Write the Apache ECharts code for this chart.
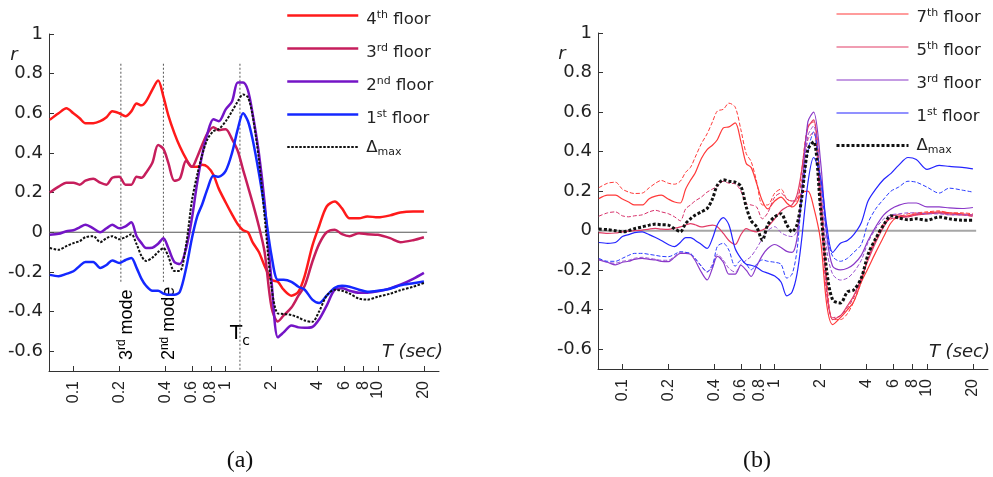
<!DOCTYPE html>
<html>
<head>
<meta charset="utf-8">
<title>r versus T</title>
<script src="https://cdn.jsdelivr.net/npm/echarts@6/dist/echarts.min.js"></script>
<style>
  html, body { margin: 0; padding: 0; background: #fff; }
  #chart { width: 993px; height: 477px; }
</style>
</head>
<body>
<div id="chart"></div>
<script>
// periods T (sec) shared by every curve
const periods = [0.07, 0.08, 0.09, 0.1, 0.11, 0.12, 0.135, 0.15, 0.165, 0.18,
  0.2, 0.22, 0.24, 0.26, 0.28, 0.3, 0.33, 0.36, 0.39, 0.42,
  0.46, 0.5, 0.55, 0.6, 0.65, 0.7, 0.76, 0.83, 0.9, 1.0,
  1.1, 1.2, 1.3, 1.4, 1.5, 1.65, 1.8, 2.0, 2.2, 2.4,
  2.7, 3.0, 3.3, 3.7, 4.1, 4.6, 5.2, 5.8, 6.5, 7.5,
  8.5, 10, 12, 14, 17, 20];
const tickPeriods = [0.1, 0.2, 0.4, 0.6, 0.8, 1, 2, 4, 6, 8, 10, 20];
const rTicks = [-0.6, -0.4, -0.2, 0, 0.2, 0.4, 0.6, 0.8, 1];

// panel (a)
const a4th = [0.567, 0.60, 0.625, 0.60, 0.575, 0.55, 0.55, 0.56, 0.58, 0.61,
  0.60, 0.585, 0.61, 0.65, 0.64, 0.66, 0.72, 0.765, 0.684, 0.59,
  0.50, 0.432, 0.37, 0.33, 0.33, 0.34, 0.33, 0.29, 0.22, 0.15,
  0.09, 0.04, 0.01, 0.0, -0.05, -0.10, -0.17, -0.24, -0.25, -0.29,
  -0.32, -0.30, -0.22, -0.07, 0.03, 0.13, 0.155, 0.12, 0.07, 0.07,
  0.08, 0.075, 0.085, 0.10, 0.105, 0.105];
const a3rd = [0.20, 0.23, 0.25, 0.25, 0.24, 0.26, 0.27, 0.25, 0.24, 0.275,
  0.28, 0.24, 0.24, 0.28, 0.275, 0.30, 0.35, 0.44, 0.42, 0.35,
  0.26, 0.27, 0.36, 0.33, 0.38, 0.44, 0.50, 0.53, 0.515, 0.52,
  0.47, 0.41, 0.315, 0.23, 0.15, 0.03, -0.10, -0.38, -0.45, -0.42,
  -0.38, -0.32, -0.27, -0.15, -0.06, 0.0, 0.013, -0.01, -0.02, -0.005,
  -0.01, -0.013, -0.03, -0.05, -0.04, -0.025];
const a2nd = [-0.013, -0.008, 0.005, 0.01, 0.025, 0.038, 0.02, 0.0, 0.02, 0.038,
  0.02, 0.03, 0.05, -0.02, -0.055, -0.08, -0.078, -0.058, -0.03, -0.08,
  -0.15, -0.16, -0.08, 0.07, 0.25, 0.39, 0.50, 0.57, 0.56, 0.62,
  0.66, 0.755, 0.755, 0.715, 0.60, 0.40, 0.15, -0.25, -0.53, -0.505,
  -0.47, -0.48, -0.482, -0.478, -0.44, -0.37, -0.29, -0.283, -0.295, -0.305,
  -0.305, -0.298, -0.283, -0.265, -0.235, -0.205];
const a1st = [-0.215, -0.222, -0.21, -0.197, -0.17, -0.15, -0.15, -0.18, -0.165, -0.142,
  -0.155, -0.14, -0.13, -0.18, -0.235, -0.27, -0.295, -0.295, -0.31, -0.315,
  -0.315, -0.30, -0.18, -0.03, 0.08, 0.14, 0.22, 0.285, 0.28, 0.31,
  0.40, 0.52, 0.60, 0.56, 0.47, 0.30, 0.12, -0.12, -0.24, -0.24,
  -0.25, -0.275, -0.29, -0.34, -0.357, -0.32, -0.28, -0.27, -0.275, -0.29,
  -0.30, -0.295, -0.285, -0.268, -0.257, -0.248];
const aDelta = [-0.08, -0.088, -0.07, -0.055, -0.045, -0.025, -0.02, -0.05, -0.03, -0.02,
  -0.035, -0.025, -0.01, -0.06, -0.12, -0.145, -0.128, -0.10, -0.08, -0.122,
  -0.195, -0.195, -0.06, 0.16, 0.29, 0.39, 0.47, 0.51, 0.52, 0.56,
  0.61, 0.66, 0.695, 0.68, 0.59, 0.37, 0.08, -0.28, -0.41, -0.412,
  -0.418, -0.43, -0.445, -0.452, -0.40, -0.32, -0.29, -0.295, -0.31, -0.335,
  -0.34, -0.325, -0.31, -0.293, -0.275, -0.256];

// panel (b): solid = one record, dashed = the other
const b7th = [0.162, 0.18, 0.18, 0.16, 0.145, 0.13, 0.13, 0.162, 0.175, 0.18,
  0.16, 0.145, 0.14, 0.21, 0.255, 0.29, 0.365, 0.41, 0.432, 0.46,
  0.52, 0.525, 0.545, 0.45, 0.34, 0.32, 0.24, 0.15, 0.11, 0.15,
  0.17, 0.14, 0.12, 0.14, 0.19, 0.20, 0.12, -0.05, -0.38, -0.475,
  -0.44, -0.40, -0.36, -0.26, -0.19, -0.11, -0.03, 0.04, 0.07, 0.075,
  0.085, 0.09, 0.095, 0.09, 0.085, 0.08];
const b7thDash = [0.217, 0.24, 0.245, 0.21, 0.195, 0.188, 0.19, 0.217, 0.24, 0.254,
  0.24, 0.235, 0.25, 0.295, 0.32, 0.37, 0.44, 0.49, 0.55, 0.605,
  0.614, 0.645, 0.625, 0.51, 0.39, 0.35, 0.25, 0.13, 0.13, 0.19,
  0.21, 0.16, 0.15, 0.15, 0.30, 0.53, 0.55, 0.24, -0.25, -0.45,
  -0.45, -0.42, -0.36, -0.26, -0.13, -0.04, 0.04, 0.06, 0.07, 0.085,
  0.09, 0.095, 0.10, 0.09, 0.09, 0.085];
const b5th = [-0.01, -0.014, -0.012, -0.006, -0.002, 0.0, 0.003, 0.008, 0.011, 0.008,
  0.006, 0.012, 0.019, 0.028, 0.036, 0.03, 0.019, 0.024, 0.028, 0.02,
  -0.014, -0.05, -0.07, -0.02, 0.01, 0.0, -0.006, 0.003, 0.02, 0.06,
  0.10, 0.12, 0.13, 0.18, 0.30, 0.52, 0.56, 0.18, -0.30, -0.45,
  -0.43, -0.38, -0.33, -0.24, -0.15, -0.06, 0.02, 0.07, 0.08, 0.07,
  0.08, 0.085, 0.09, 0.085, 0.08, 0.075];
const b5thDash = [0.073, 0.09, 0.095, 0.075, 0.07, 0.075, 0.08, 0.095, 0.103, 0.095,
  0.086, 0.07, 0.05, 0.11, 0.13, 0.15, 0.17, 0.195, 0.21, 0.225,
  0.25, 0.24, 0.237, 0.20, 0.137, 0.13, 0.12, 0.06, 0.09, 0.17,
  0.19, 0.16, 0.15, 0.16, 0.25, 0.46, 0.50, 0.10, -0.33, -0.44,
  -0.43, -0.39, -0.34, -0.25, -0.14, -0.05, 0.03, 0.06, 0.065, 0.07,
  0.08, 0.085, 0.09, 0.08, 0.08, 0.07];
const b3rd = [-0.148, -0.16, -0.173, -0.16, -0.155, -0.145, -0.14, -0.145, -0.148, -0.155,
  -0.157, -0.135, -0.115, -0.115, -0.12, -0.15, -0.21, -0.249, -0.19, -0.13,
  -0.16, -0.22, -0.22, -0.175, -0.20, -0.232, -0.18, -0.125, -0.09, -0.07,
  -0.085, -0.105, -0.11, -0.04, 0.19, 0.55, 0.60, 0.35, -0.03, -0.18,
  -0.198, -0.19, -0.17, -0.125, -0.05, 0.02, 0.08, 0.11, 0.128, 0.14,
  0.14, 0.12, 0.12, 0.115, 0.112, 0.117];
const b3rdDash = [-0.145, -0.16, -0.165, -0.155, -0.15, -0.14, -0.135, -0.14, -0.145, -0.15,
  -0.15, -0.13, -0.11, -0.11, -0.12, -0.14, -0.18, -0.21, -0.17, -0.12,
  -0.15, -0.19, -0.21, -0.17, -0.15, -0.13, -0.09, -0.04, 0.0, 0.02,
  -0.01, -0.025, -0.03, 0.0, 0.20, 0.48, 0.53, 0.22, -0.10, -0.22,
  -0.25, -0.24, -0.21, -0.15, -0.06, 0.01, 0.06, 0.08, 0.085, 0.09,
  0.09, 0.085, 0.085, 0.08, 0.08, 0.08];
const b1st = [-0.06, -0.064, -0.06, -0.03, -0.02, -0.01, -0.006, -0.02, -0.035, -0.05,
  -0.07, -0.081, -0.06, -0.035, -0.035, -0.048, -0.07, -0.09, -0.04, 0.03,
  0.066, 0.03, -0.09, -0.14, -0.17, -0.175, -0.185, -0.205, -0.215, -0.23,
  -0.26, -0.33, -0.31, -0.22, -0.05, 0.24, 0.37, 0.27, 0.02, -0.11,
  -0.064, -0.05, -0.02, 0.04, 0.15, 0.21, 0.26, 0.29, 0.33, 0.37,
  0.36, 0.31, 0.33, 0.325, 0.32, 0.313];
const b1stDash = [-0.14, -0.155, -0.155, -0.14, -0.125, -0.115, -0.115, -0.12, -0.125, -0.13,
  -0.132, -0.12, -0.106, -0.11, -0.115, -0.14, -0.18, -0.207, -0.18, -0.08,
  -0.064, -0.098, -0.18, -0.15, -0.17, -0.198, -0.17, -0.148, -0.155, -0.16,
  -0.17, -0.24, -0.22, -0.10, 0.15, 0.40, 0.50, 0.26, -0.02, -0.13,
  -0.155, -0.14, -0.11, -0.07, 0.04, 0.11, 0.16, 0.20, 0.22, 0.25,
  0.245, 0.22, 0.19, 0.215, 0.205, 0.195];
const bDelta = [0.008, 0.005, 0.0, -0.006, 0.0, 0.01, 0.019, 0.028, 0.033, 0.03,
  0.028, 0.01, -0.006, 0.036, 0.06, 0.078, 0.095, 0.112, 0.16, 0.23,
  0.257, 0.25, 0.245, 0.224, 0.12, 0.05, 0.02, -0.048, 0.03, 0.07,
  0.086, 0.03, -0.006, 0.03, 0.16, 0.41, 0.45, 0.11, -0.21, -0.35,
  -0.366, -0.31, -0.30, -0.24, -0.12, -0.04, 0.03, 0.075, 0.065, 0.055,
  0.06, 0.053, 0.069, 0.06, 0.053, 0.053];

// marker periods: 3rd mode, 2nd mode, Tc
const modePeriods = [0.205, 0.39];
const tcPeriod = 1.24;
const zeroLineEnd = 21;

const legendLabels = {
  a4: '4{sup|th} floor', a3: '3{sup|rd} floor', a2: '2{sup|nd} floor', a1: '1{sup|st} floor', aD: 'Δ{sub|max}',
  b7: '7{sup|th} floor', b5: '5{sup|th} floor', b3: '3{sup|rd} floor', b1: '1{sup|st} floor', bD: 'Δ{sub|max}'
};

const lg = Math.log10;
const X_MIN = -1.16, X_MAX = 1.40;
const pts = vals => periods.map((t, i) => [lg(t), vals[i]]);
const tickLabel = v => {
  let best = tickPeriods[0];
  tickPeriods.forEach(p => { if (Math.abs(lg(p) - v) < Math.abs(lg(best) - v)) best = p; });
  return String(best);
};

const chart = echarts.init(document.getElementById('chart'));

function xAxisFor(gridIndex) {
  return {
    type: 'value', gridIndex, min: X_MIN, max: X_MAX,
    axisLine: { show: true, onZero: false, lineStyle: { color: '#333', width: 1 } },
    axisTick: { show: true, inside: true, length: 5, customValues: tickPeriods.map(lg), lineStyle: { color: '#333' } },
    axisLabel: {
      customValues: tickPeriods.map(lg), rotate: 90, margin: 10,
      fontFamily: 'Liberation Sans', fontSize: 16, color: '#222', formatter: tickLabel
    },
    splitLine: { show: false }
  };
}
function yAxisFor(gridIndex) {
  return {
    type: 'value', gridIndex, min: -0.7, max: 1,
    axisLine: { show: true, onZero: false, lineStyle: { color: '#333', width: 1 } },
    axisTick: { show: true, inside: true, length: 5, customValues: rTicks, lineStyle: { color: '#333' } },
    axisLabel: { customValues: rTicks, margin: 6, fontFamily: 'DejaVu Sans', fontSize: 18, color: '#222' },
    splitLine: { show: false }
  };
}
function curve(name, vals, idx, color, width, dash) {
  return {
    name, type: 'line', xAxisIndex: idx, yAxisIndex: idx, data: pts(vals),
    smooth: 0.3, symbol: 'none', silent: true, z: 3,
    lineStyle: { color, width, type: dash || 'solid' }, itemStyle: { color }
  };
}
function guide(name, idx, data, color, width, dash) {
  return {
    name, type: 'line', xAxisIndex: idx, yAxisIndex: idx, data,
    symbol: 'none', silent: true, z: 1, lineStyle: { color, width, type: dash }
  };
}
const supRich = {
  sup: { fontFamily: 'DejaVu Sans', fontSize: 11, lineHeight: 6, verticalAlign: 'top', color: '#222' },
  sub: { fontFamily: 'DejaVu Sans', fontSize: 11, lineHeight: 2, verticalAlign: 'bottom', color: '#222' }
};
function legendFor(names, left, top, width, lineW, deltaW) {
  return {
    orient: 'vertical', left, top, padding: 0, itemWidth: width, itemHeight: 14, itemGap: 5,
    selectedMode: false,
    data: names.map(n => n.endsWith('D')
      ? { name: n, lineStyle: { width: deltaW }, textStyle: { padding: [4, 0, 3, 3] } }
      : { name: n, lineStyle: { width: lineW } }),
    formatter: n => legendLabels[n],
    itemStyle: { opacity: 0 },
    textStyle: {
      fontFamily: 'DejaVu Sans', fontSize: 16.5, lineHeight: 20, color: '#222',
      padding: [8, 0, 0, 3], rich: supRich
    }
  };
}

const guideColor = '#555';
const option = {
  animation: false,
  backgroundColor: '#fff',
  grid: [
    { left: 49, top: 34, width: 390, height: 337 },
    { left: 598, top: 33, width: 390, height: 336 }
  ],
  xAxis: [xAxisFor(0), xAxisFor(1)],
  yAxis: [yAxisFor(0), yAxisFor(1)],
  legend: [
    legendFor(['a4', 'a3', 'a2', 'a1', 'aD'], 286, 1.5, 71, 2.5, 2),
    legendFor(['b7', 'b5', 'b3', 'b1', 'bD'], 835, 0, 72, 1.2, 3)
  ],
  series: [
    guide('zeroA', 0, [[X_MIN, 0], [lg(zeroLineEnd), 0]], '#555', 1, 'solid'),
    guide('mode3', 0, [[lg(modePeriods[0]), 0.85], [lg(modePeriods[0]), -0.25]], guideColor, 1, [2, 2]),
    guide('mode2', 0, [[lg(modePeriods[1]), 0.85], [lg(modePeriods[1]), -0.25]], guideColor, 1, [2, 2]),
    guide('tc', 0, [[lg(tcPeriod), 0.85], [lg(tcPeriod), -0.7]], guideColor, 1, [2, 2]),
    curve('a4', a4th, 0, '#ff1a1a', 2.5),
    curve('a3', a3rd, 0, '#c61e5c', 2.5),
    curve('a2', a2nd, 0, '#7414c6', 2.5),
    curve('a1', a1st, 0, '#1428ff', 2.5),
    curve('aD', aDelta, 0, '#111', 2, [2.5, 1.5]),

    guide('zeroB', 1, [[X_MIN, 0], [lg(zeroLineEnd), 0]], '#a6a6a6', 2, 'solid'),
    curve('b7', b7th, 1, '#ff3a3a', 1.2),
    curve('b7d', b7thDash, 1, '#ff3a3a', 1, [4, 2]),
    curve('b5', b5th, 1, '#e23c66', 1.2),
    curve('b5d', b5thDash, 1, '#d8306a', 1, [4, 2]),
    curve('b3', b3rd, 1, '#8a38c8', 1.2),
    curve('b3d', b3rdDash, 1, '#9a50d0', 1, [4, 2]),
    curve('b1', b1st, 1, '#2424ff', 1.2),
    curve('b1d', b1stDash, 1, '#2a3cff', 1, [4, 2]),
    curve('bD', bDelta, 1, '#111', 3, [3, 2])
  ]
};
chart.setOption(option);

// annotations anchored to data coordinates
const px = (gi, t, r) => chart.convertToPixel({ gridIndex: gi }, [lg(t), r]);
const modeRich = {
  n: { fontFamily: 'Liberation Sans', fontSize: 18, lineHeight: 22, color: '#222' },
  s: { fontFamily: 'Liberation Sans', fontSize: 12, lineHeight: 8, verticalAlign: 'top', color: '#222' }
};
const m3 = px(0, modePeriods[0], -0.645);
const m2 = px(0, modePeriods[1], -0.645);
const tc = px(0, tcPeriod, -0.51);
const italic = { fontFamily: 'DejaVu Sans', fontStyle: 'italic', fontSize: 18, fill: '#222' };
chart.setOption({
  graphic: [
    { type: 'text', x: m3[0] + 6, y: m3[1], rotation: Math.PI / 2,
      style: { text: '{n|3}{s|rd}{n| mode}', rich: modeRich, align: 'left', verticalAlign: 'middle' } },
    { type: 'text', x: m2[0] + 6, y: m2[1], rotation: Math.PI / 2,
      style: { text: '{n|2}{s|nd}{n| mode}', rich: modeRich, align: 'left', verticalAlign: 'middle' } },
    { type: 'text', x: tc[0] - 10, y: tc[1],
      style: { text: '{t|T}{c|c}', align: 'left', verticalAlign: 'middle', rich: {
        t: { fontFamily: 'DejaVu Sans', fontSize: 20, lineHeight: 30, color: '#222' },
        c: { fontFamily: 'DejaVu Sans', fontSize: 14, lineHeight: 4, verticalAlign: 'bottom', color: '#222' }
      } } },
    { type: 'text', x: 443, y: 352, style: Object.assign({ text: 'T (sec)', align: 'right', verticalAlign: 'middle' }, italic) },
    { type: 'text', x: 990, y: 352, style: Object.assign({ text: 'T (sec)', align: 'right', verticalAlign: 'middle' }, italic) },
    { type: 'text', x: 14, y: 55, style: Object.assign({ text: 'r', align: 'center', verticalAlign: 'middle' }, italic) },
    { type: 'text', x: 562, y: 54, style: Object.assign({ text: 'r', align: 'center', verticalAlign: 'middle' }, italic) },
    { type: 'text', x: 240, y: 461, style: { text: '(a)', fontFamily: 'Liberation Serif', fontSize: 24, fill: '#111', align: 'center', verticalAlign: 'middle' } },
    { type: 'text', x: 757, y: 461, style: { text: '(b)', fontFamily: 'Liberation Serif', fontSize: 24, fill: '#111', align: 'center', verticalAlign: 'middle' } }
  ]
});
</script>
</body>
</html>
